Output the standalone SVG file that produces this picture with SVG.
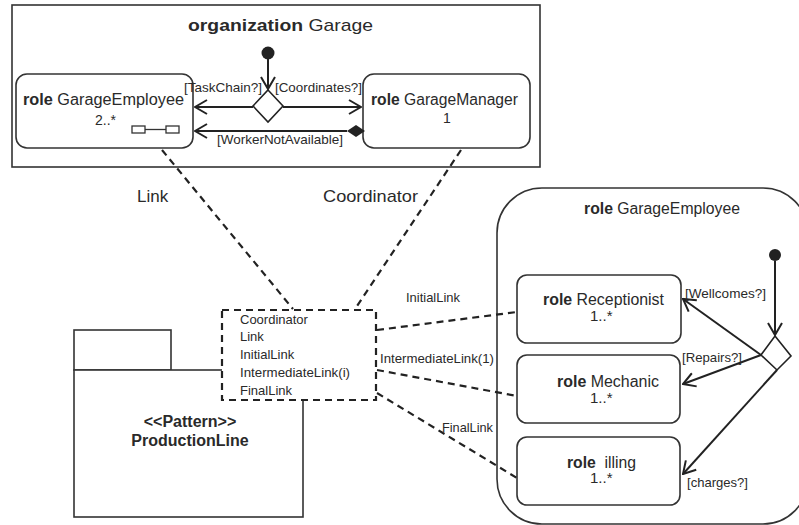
<svg xmlns="http://www.w3.org/2000/svg" width="799" height="525" viewBox="0 0 799 525">
<style>
text{font-family:"Liberation Sans",Arial,sans-serif;fill:#2a2a2a}
.b{font-weight:bold}
.box{fill:#fff;stroke:#333;stroke-width:1.6}
.frame{fill:#fff;stroke:#333;stroke-width:1.6}
.arr{fill:none;stroke:#222;stroke-width:2;marker-end:url(#open)}
.dash{fill:none;stroke:#222;stroke-width:2.2;stroke-dasharray:7 5}
.dashbox{fill:#fff;stroke:#222;stroke-width:2.2;stroke-dasharray:7 5}
.t13{font-size:13px}
</style>
<defs>
<marker id="open" viewBox="0 0 14 16" refX="13" refY="8" markerWidth="14" markerHeight="16" markerUnits="userSpaceOnUse" orient="auto">
<path d="M1,1 L13,8 L1,15" fill="none" stroke="#222" stroke-width="2"/>
</marker>
</defs>
<rect width="799" height="525" fill="#fff"/>

<g id="organization">
<rect class="frame" x="12" y="5" width="528" height="162"/>
<text x="188" y="31" font-size="17" textLength="185" lengthAdjust="spacingAndGlyphs"><tspan class="b">organization</tspan> Garage</text>
<circle cx="268" cy="53" r="6.5" fill="#222"/>
</g>

<g id="garageEmployeeTop">
<rect class="box" x="16" y="74" width="177" height="74" rx="11"/>
<text x="23" y="105" font-size="16" textLength="161" lengthAdjust="spacingAndGlyphs"><tspan class="b">role</tspan> GarageEmployee</text>
<text x="95" y="125" font-size="14">2..*</text>
<rect x="132" y="126" width="13" height="7" fill="#fff" stroke="#333" stroke-width="1.3"/>
<rect x="166" y="126" width="13" height="7" fill="#fff" stroke="#333" stroke-width="1.3"/>
<line x1="145" y1="129.5" x2="166" y2="129.5" stroke="#333" stroke-width="1.3"/>
</g>

<g id="garageManager">
<rect class="box" x="363" y="74" width="167" height="74" rx="11"/>
<text x="371" y="105" font-size="16" textLength="147" lengthAdjust="spacingAndGlyphs"><tspan class="b">role</tspan> GarageManager</text>
<text x="443" y="123" font-size="14">1</text>
</g>

<g id="decisionTop">
<polygon points="268,90 283,106 268,122 253,106" fill="#fff" stroke="#222" stroke-width="1.6"/>
</g>

<g id="package">
<rect class="box" x="74" y="330" width="97" height="40"/>
<rect class="box" x="74" y="370" width="229" height="147"/>
<text x="190" y="427" font-size="16" class="b" text-anchor="middle">&lt;&lt;Pattern&gt;&gt;</text>
<text x="190" y="446" font-size="16" class="b" text-anchor="middle">ProductionLine</text>
</g>

<g id="collaboration">
<rect class="dashbox" x="222" y="310" width="154" height="90"/>
<text class="t13" x="240" y="324">Coordinator</text>
<text class="t13" x="240" y="341">Link</text>
<text class="t13" x="240" y="359">InitialLink</text>
<text class="t13" x="240" y="377" textLength="110" lengthAdjust="spacingAndGlyphs">IntermediateLink(i)</text>
<text class="t13" x="240" y="395">FinalLink</text>
</g>

<g id="garageEmployeeDetail">
<rect class="frame" x="497" y="188" width="311" height="336" rx="45"/>
<text x="584" y="214" font-size="16" textLength="156" lengthAdjust="spacingAndGlyphs"><tspan class="b">role</tspan> GarageEmployee</text>
<circle cx="775" cy="255" r="6" fill="#222"/>
<polygon points="775,336 791,356 777,370 761,355" fill="#fff" stroke="#222" stroke-width="1.6"/>
</g>

<g id="receptionist">
<rect class="box" x="517" y="275" width="164" height="68" rx="10"/>
<text x="543" y="305" font-size="16" textLength="121" lengthAdjust="spacingAndGlyphs"><tspan class="b">role</tspan> Receptionist</text>
<text x="590" y="321" font-size="15">1..*</text>
</g>

<g id="mechanic">
<rect class="box" x="517" y="355" width="163" height="68" rx="10"/>
<text x="557" y="387" font-size="16" textLength="102" lengthAdjust="spacingAndGlyphs"><tspan class="b">role</tspan> Mechanic</text>
<text x="590" y="403" font-size="15">1..*</text>
</g>

<g id="billing">
<rect class="box" x="517" y="437" width="163" height="68" rx="10"/>
<text x="567" y="468" font-size="16" style="white-space:pre" textLength="69" lengthAdjust="spacingAndGlyphs"><tspan class="b">role</tspan>  illing</text>
<text x="590" y="483" font-size="15">1..*</text>
</g>

<g id="connectors">
<line class="arr" x1="268" y1="59" x2="268" y2="89"/>
<line class="arr" x1="253" y1="107" x2="195" y2="107"/>
<line class="arr" x1="283" y1="107" x2="361" y2="107"/>
<line class="arr" x1="347" y1="131" x2="195" y2="131"/>
<polygon points="347,131 356,125 365,131 356,137" fill="#222"/>
<text class="t13" x="184" y="92" textLength="78" lengthAdjust="spacingAndGlyphs">[TaskChain?]</text>
<text class="t13" x="275" y="92" textLength="87" lengthAdjust="spacingAndGlyphs">[Coordinates?]</text>
<text class="t13" x="217" y="144" textLength="126" lengthAdjust="spacingAndGlyphs">[WorkerNotAvailable]</text>

<line class="dash" x1="162" y1="150" x2="293" y2="309"/>
<line class="dash" x1="461" y1="150" x2="355" y2="309"/>
<text x="137" y="202" font-size="17">Link</text>
<text x="323" y="202" font-size="17" textLength="95" lengthAdjust="spacingAndGlyphs">Coordinator</text>

<line class="dash" x1="377" y1="330" x2="517" y2="312"/>
<line class="dash" x1="377" y1="370" x2="517" y2="396"/>
<line class="dash" x1="377" y1="393" x2="517" y2="478"/>
<text class="t13" x="406" y="302" textLength="54" lengthAdjust="spacingAndGlyphs">InitialLink</text>
<text class="t13" x="380" y="363" textLength="114" lengthAdjust="spacingAndGlyphs">IntermediateLink(1)</text>
<text class="t13" x="442" y="432" textLength="51" lengthAdjust="spacingAndGlyphs">FinalLink</text>

<line class="arr" x1="775" y1="261" x2="775" y2="335"/>
<line class="arr" x1="761" y1="355" x2="683" y2="299"/>
<line class="arr" x1="761" y1="355" x2="683" y2="384"/>
<line class="arr" x1="777" y1="370" x2="683" y2="474"/>
<text class="t13" x="685" y="298" textLength="81" lengthAdjust="spacingAndGlyphs">[Wellcomes?]</text>
<text class="t13" x="682" y="362" textLength="60" lengthAdjust="spacingAndGlyphs">[Repairs?]</text>
<text class="t13" x="687" y="487" textLength="61" lengthAdjust="spacingAndGlyphs">[charges?]</text>
</g>
</svg>
